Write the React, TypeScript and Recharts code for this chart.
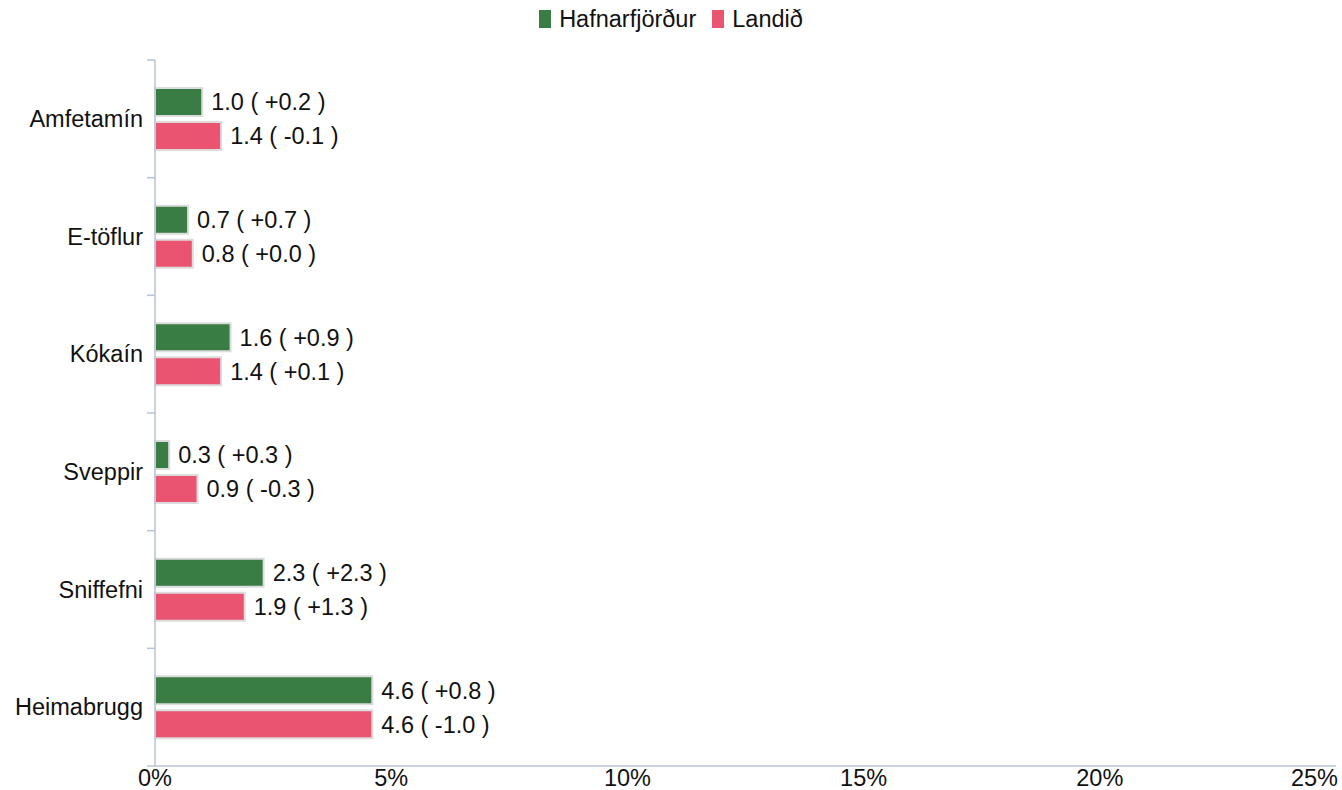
import { BarChart, Bar, XAxis, YAxis, LabelList } from 'recharts';

const categories = ['Amfetamín', 'E-töflur', 'Kókaín', 'Sveppir', 'Sniffefni', 'Heimabrugg'];
const hafnarfjordur = [1.0, 0.7, 1.6, 0.3, 2.3, 4.6];
const hafnarfjordurChange = ['+0.2', '+0.7', '+0.9', '+0.3', '+2.3', '+0.8'];
const landid = [1.4, 0.8, 1.4, 0.9, 1.9, 4.6];
const landidChange = ['-0.1', '+0.0', '+0.1', '-0.3', '+1.3', '-1.0'];
const xTicks = [0, 5, 10, 15, 20, 25];

const GREEN = '#3a7d44';
const PINK = '#ea5471';
const AXIS = '#b7c4d6';
const TEXT = '#111';
const FONT = '"Liberation Sans", Arial, sans-serif';
const FS = 23.5;

const WIDTH = 1342;
const HEIGHT = 790;
const TOP = 60;
const X_AXIS_H = 24;
const bandHalf = (HEIGHT - TOP - X_AXIS_H) / categories.length / 2;

const data = categories.map((name, i) => ({
  name,
  h: hafnarfjordur[i],
  hLabel: `${hafnarfjordur[i].toFixed(1)} ( ${hafnarfjordurChange[i]} )`,
  l: landid[i],
  lLabel: `${landid[i].toFixed(1)} ( ${landidChange[i]} )`,
}));

// category labels, with tick marks drawn at the band edges
const YTick = (props: any) => {
  const { x, y, payload, index } = props;
  const axisX = x + 11;
  return (
    <g>
      <line x1={axisX - 8} x2={axisX} y1={y - bandHalf} y2={y - bandHalf} stroke={AXIS} strokeWidth={1.5} />
      {index === categories.length - 1 && (
        <line x1={axisX - 8} x2={axisX} y1={y + bandHalf} y2={y + bandHalf} stroke={AXIS} strokeWidth={1.5} />
      )}
      <text x={x - 1} y={y} dy={8} textAnchor="end" fontSize={FS} fontFamily={FONT} fill={TEXT}>
        {payload.value}
      </text>
    </g>
  );
};

const XTick = (props: any) => {
  const { x, y, payload, index } = props;
  const last = index === xTicks.length - 1;
  return (
    <text x={last ? x + 2 : x} y={y} dy={20} textAnchor={last ? 'end' : 'middle'} fontSize={FS} fontFamily={FONT} fill={TEXT}>
      {payload.value}%
    </text>
  );
};

const legendItems = [
  { name: 'Hafnarfjörður', color: GREEN },
  { name: 'Landið', color: PINK },
];

const ChartLegend = () => (
  <div
    style={{
      position: 'absolute',
      left: 0,
      top: 7,
      width: WIDTH,
      display: 'flex',
      justifyContent: 'center',
      alignItems: 'center',
      fontFamily: FONT,
      fontSize: FS,
      color: TEXT,
      lineHeight: '24px',
    }}
  >
    {legendItems.map((it, i) => (
      <span key={it.name} style={{ display: 'flex', alignItems: 'center', marginLeft: i ? 16 : 0 }}>
        <span style={{ display: 'inline-block', width: 12, height: 18, background: it.color, marginRight: 8 }} />
        <span>{it.name}</span>
      </span>
    ))}
  </div>
);

export default function App() {
  return (
    <div style={{ position: 'absolute', left: 0, top: 0, width: WIDTH, height: HEIGHT, background: '#fff' }}>
      <ChartLegend />
      <BarChart
        width={WIDTH}
        height={HEIGHT}
        data={data}
        layout="vertical"
        margin={{ top: TOP, right: 6, bottom: 0, left: 0 }}
        barSize={28}
        barGap={6}
      >
        <XAxis
          type="number"
          domain={[0, 25]}
          ticks={xTicks}
          axisLine={{ stroke: AXIS, strokeWidth: 1.5 }}
          tickLine={false}
          tick={<XTick />}
          tickSize={0}
          tickMargin={0}
          height={X_AXIS_H}
          interval={0}
        />
        <YAxis
          type="category"
          dataKey="name"
          width={155}
          axisLine={{ stroke: AXIS, strokeWidth: 1.5 }}
          tickLine={false}
          tick={<YTick />}
          tickSize={0}
          tickMargin={11}
          interval={0}
        />
        <Bar dataKey="h" name="Hafnarfjörður" fill={GREEN} stroke="#dcdcdc" strokeWidth={2} isAnimationActive={false}>
          <LabelList dataKey="hLabel" position="right" offset={9} style={{ fontSize: FS, fontFamily: FONT, fill: TEXT }} />
        </Bar>
        <Bar dataKey="l" name="Landið" fill={PINK} stroke="#dcdcdc" strokeWidth={2} isAnimationActive={false}>
          <LabelList dataKey="lLabel" position="right" offset={9} style={{ fontSize: FS, fontFamily: FONT, fill: TEXT }} />
        </Bar>
      </BarChart>
    </div>
  );
}
